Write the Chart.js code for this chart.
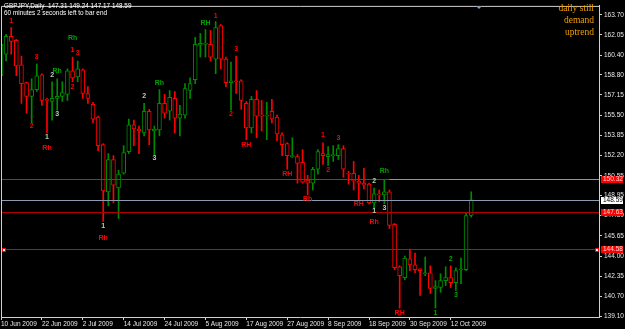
<!DOCTYPE html>
<html>
<head>
<meta charset="utf-8">
<script src="https://cdn.jsdelivr.net/npm/chart.js@4.4.1/dist/chart.umd.min.js"></script>
<style>
html, body { margin: 0; padding: 0; background: #000; }
#wrap { width: 625px; height: 329px; }
</style>
</head>
<body>
<div id="wrap"><canvas id="candle-chart" width="625" height="329"></canvas></div>
<script>
// GBPJPY daily, 10 Jun 2009 .. 16 Oct 2009
var openPrice = [
    158.72, 160.48, 161.93, 161.61, 159.60, 158.15, 157.03, 157.59, 158.80, 156.79,
    156.62, 156.87, 157.03, 157.19, 159.12, 158.63, 159.20, 157.27, 156.38, 155.34,
    153.09, 149.23, 151.88, 149.55, 150.76, 152.52, 154.70, 154.37, 154.05, 155.82,
    154.21, 154.29, 156.46, 155.82, 156.87, 155.26, 155.50, 157.51, 158.39, 161.21,
    161.29, 161.29, 160.08, 162.82, 160.08, 158.15, 158.31, 158.31, 156.46, 154.45,
    156.79, 155.50, 155.42, 155.82, 155.34, 153.89, 153.17, 152.12, 152.12, 151.64,
    150.19, 149.95, 151.08, 152.36, 152.12, 152.20, 152.20, 152.77, 150.76, 150.76,
    150.11, 149.95, 149.87, 148.34, 149.07, 148.99, 149.23, 146.58, 143.12, 142.23,
    143.76, 143.28, 142.96, 142.55, 142.63, 141.35, 141.43, 141.99, 142.23, 141.83,
    142.88, 142.88, 147.31
];
var highPrice = [
    161.45, 162.09, 162.65, 161.69, 160.32, 158.20, 158.47, 159.68, 158.88, 156.87,
    158.23, 158.47, 158.23, 159.28, 160.24, 159.92, 159.28, 157.83, 156.54, 155.42,
    153.17, 152.36, 152.20, 151.00, 153.01, 155.18, 155.10, 154.61, 156.46, 155.98,
    154.61, 157.59, 157.19, 157.51, 157.43, 156.30, 158.07, 158.55, 161.85, 162.17,
    162.49, 162.41, 163.14, 162.90, 160.24, 159.84, 160.32, 158.39, 156.62, 157.03,
    157.51, 156.70, 156.54, 156.79, 155.50, 154.05, 153.25, 153.65, 152.28, 152.69,
    150.59, 151.24, 152.69, 153.25, 152.93, 153.01, 153.09, 153.01, 150.92, 151.72,
    150.59, 151.16, 149.95, 149.55, 149.39, 150.27, 149.39, 146.66, 143.20, 144.00,
    144.57, 144.24, 142.96, 143.92, 143.20, 141.99, 142.55, 143.12, 143.20, 143.04,
    143.84, 147.54, 149.24
];
var lowPrice = [
    158.55, 159.92, 160.48, 158.72, 156.46, 155.66, 154.86, 157.43, 156.30, 154.05,
    155.10, 155.90, 156.62, 156.70, 158.23, 158.23, 156.87, 156.46, 154.86, 152.60,
    146.82, 148.10, 148.34, 147.06, 150.68, 152.36, 153.01, 152.36, 153.81, 153.09,
    152.28, 153.81, 155.26, 155.10, 154.05, 153.81, 155.26, 156.87, 158.07, 160.24,
    160.24, 159.92, 158.88, 159.28, 157.83, 155.90, 157.27, 155.98, 153.49, 154.05,
    153.65, 154.21, 153.49, 154.86, 153.41, 152.20, 151.08, 152.04, 149.95, 149.95,
    148.99, 149.39, 150.68, 151.48, 151.40, 151.72, 151.88, 150.43, 149.87, 149.39,
    148.59, 149.47, 148.26, 147.86, 148.42, 148.26, 146.25, 142.88, 139.74, 142.07,
    142.80, 142.63, 140.79, 142.39, 140.95, 139.74, 141.03, 141.59, 141.43, 141.19,
    141.75, 142.80, 147.17
];
var closePrice = [
    161.29, 161.93, 161.53, 159.52, 158.07, 157.03, 157.59, 158.72, 156.70, 156.70,
    156.87, 157.03, 157.35, 159.12, 158.55, 159.28, 157.27, 156.87, 155.18, 153.01,
    149.31, 151.88, 149.79, 150.68, 152.44, 154.70, 154.37, 154.21, 155.82, 154.29,
    154.37, 156.46, 155.66, 156.95, 155.26, 155.58, 157.67, 158.07, 161.29, 161.37,
    161.37, 160.24, 162.65, 160.08, 158.15, 158.31, 158.23, 156.70, 154.45, 156.79,
    155.42, 155.42, 155.50, 155.18, 153.97, 153.09, 152.20, 152.20, 151.56, 150.03,
    149.95, 151.08, 152.52, 152.20, 152.28, 152.28, 152.77, 151.08, 150.68, 150.11,
    149.95, 149.79, 148.34, 149.07, 148.99, 149.23, 146.50, 143.04, 142.39, 143.84,
    143.28, 142.88, 142.80, 142.63, 141.35, 141.51, 141.99, 142.23, 141.83, 142.80,
    142.96, 147.30, 148.59
];

// one tick label every 8 bars
var dateLabels = ['10 Jun 2009', '22 Jun 2009', '2 Jul 2009', '14 Jul 2009', '24 Jul 2009', '5 Aug 2009',
    '17 Aug 2009', '27 Aug 2009', '8 Sep 2009', '18 Sep 2009', '30 Sep 2009', '12 Oct 2009'];
var priceTicks = [163.70, 162.05, 160.40, 158.80, 157.15, 155.50, 153.85, 152.20, 150.55,
    148.95, 147.30, 145.65, 144.00, 142.35, 140.70, 139.10];

// horizontal lines: price, colour, label box background, label text colour
var levels = [150.32, 148.59, 147.63, 144.58];
var levelColors = ['#ff0000', '#8c9bb0', '#b00000', '#e00000'];
var levelBoxBg = ['#ff0000', '#ffffff', '#ff0000', '#ff0000'];
var levelBoxFg = ['#ffd0d0', '#000000', '#ffd0d0', '#ffd0d0'];
var purpleStart = 76;

// indicator marks: bar index, price, text, colour
var marks = [
    [2, 163.16, '1', 'r'], [7, 160.24, '3', 'r'], [14, 161.77, 'Rh', 'g'], [14, 160.83, '1', 'r'],
    [15, 160.57, '3', 'r'], [14, 157.83, '2', 'r'], [10, 158.80, '2', 'p'], [11, 159.12, 'Rh', 'g'],
    [11, 155.58, '3', 'p'], [6, 154.62, '2', 'r'], [9, 153.73, '1', 'p'], [9, 152.79, 'Rh', 'r'],
    [31, 158.15, 'Rh', 'g'], [28, 157.03, '2', 'p'], [30, 151.99, '3', 'p'], [20, 146.42, '1', 'p'],
    [20, 145.45, 'Rh', 'r'], [40, 162.98, 'RH', 'g'], [42, 163.62, '1', 'r'], [46, 160.89, '3', 'r'],
    [45, 155.60, '2', 'r'], [48, 153.06, 'RH', 'r'], [63, 153.84, '1', 'r'], [66, 153.65, '3', 'r'],
    [56, 150.65, 'RH', 'r'], [64, 150.98, '2', 'r'], [60, 148.64, 'Rh', 'r'], [75, 150.92, 'Rh', 'g'],
    [73, 150.11, '2', 'p'], [70, 148.24, 'RH', 'r'], [73, 147.68, '1', 'p'], [75, 147.89, '3', 'p'],
    [73, 146.76, 'Rh', 'r'], [78, 139.37, 'RH', 'r'], [88, 143.74, '2', 'g'], [89, 140.85, '3', 'g'],
    [85, 139.32, '1', 'g']
];
var markColors = { r: '#ff0000', g: '#00a000', p: '#b4d0b4' };

var slots = 118;
var labels = [];
for (var i = 0; i < slots; i++) labels.push(String(i));

var candleColors = openPrice.map(function (o, i) {
    return closePrice[i] >= o ? '#008a00' : '#ff0000';
});

var smallFont = '"Liberation Sans Narrow", "Liberation Sans", sans-serif';

var overlay = {
    id: 'mtOverlay',
    afterDatasetsDraw: function (chart) {
        var ctx = chart.ctx;
        var area = chart.chartArea;
        var x = chart.scales.x, y = chart.scales.y;
        ctx.save();
        ctx.beginPath();
        ctx.rect(area.left, area.top, area.right - area.left, area.bottom - area.top);
        ctx.clip();
        ctx.lineWidth = 1;
        levels.forEach(function (lv, k) {
            var py = Math.round(y.getPixelForValue(lv)) + 0.5;
            ctx.strokeStyle = levelColors[k];
            ctx.beginPath();
            ctx.moveTo(area.left, py);
            ctx.lineTo(area.right, py);
            ctx.stroke();
        });
        var pp = Math.round(y.getPixelForValue(levels[0])) + 0.5;
        ctx.strokeStyle = '#a080f0';
        ctx.beginPath();
        ctx.moveTo(x.getPixelForValue(purpleStart), pp);
        ctx.lineTo(area.right, pp);
        ctx.stroke();

        // handles on the lower red line
        var hy = Math.round(y.getPixelForValue(levels[3]));
        [area.left + 1, area.right - 4].forEach(function (hx) {
            ctx.fillStyle = '#ff0000';
            ctx.fillRect(hx, hy - 1, 4, 4);
            ctx.fillStyle = '#ffffff';
            ctx.fillRect(hx + 1, hy, 2, 2);
        });

        ctx.font = 'bold 7px "Liberation Sans", sans-serif';
        ctx.textAlign = 'center';
        ctx.textBaseline = 'middle';
        marks.forEach(function (m) {
            ctx.fillStyle = markColors[m[3]];
            ctx.fillText(m[2], x.getPixelForValue(m[0]), y.getPixelForValue(m[1]));
        });
        ctx.restore();
    },
    afterDraw: function (chart) {
        var ctx = chart.ctx;
        var area = chart.chartArea;
        var y = chart.scales.y;
        ctx.save();
        ctx.strokeStyle = '#d0d0d0';
        ctx.lineWidth = 1;
        ctx.beginPath();
        ctx.moveTo(area.left + 0.5, area.bottom);
        ctx.lineTo(area.left + 0.5, area.top + 0.5);
        ctx.lineTo(area.right, area.top + 0.5);
        ctx.stroke();

        // chart shift marker
        ctx.fillStyle = '#8c9bb0';
        ctx.beginPath();
        ctx.moveTo(476, area.top);
        ctx.lineTo(482, area.top);
        ctx.lineTo(479, area.top + 3);
        ctx.fill();

        ctx.font = '6.5px ' + smallFont;
        ctx.textBaseline = 'middle';
        ctx.textAlign = 'left';
        levels.forEach(function (lv, k) {
            var py = y.getPixelForValue(lv);
            ctx.fillStyle = levelBoxBg[k];
            ctx.fillRect(area.right + 2, Math.round(py) - 3, 22, 7);
            ctx.fillStyle = levelBoxFg[k];
            ctx.fillText(lv.toFixed(2), area.right + 4, Math.round(py) + 0.5);
        });

        ctx.fillStyle = '#ffffff';
        ctx.font = '6.4px "Liberation Sans", sans-serif';
        ctx.fillText('GBPJPY,Daily  147.31 149.24 147.17 148.59', 4, 6.5);
        ctx.fillText('60 minutes 2 seconds left to bar end', 4, 13.5);

        ctx.fillStyle = '#f0a000';
        ctx.font = '9.5px "Liberation Serif", serif';
        ctx.textAlign = 'right';
        ctx.fillText('daily still', 594, 8.5);
        ctx.fillText('demand', 594, 20.5);
        ctx.fillText('uptrend', 594, 32.5);
        ctx.restore();
    }
};

var ctx = document.getElementById('candle-chart');

var data = {
    labels: labels,
    datasets: [
        {
            label: 'Body',
            data: openPrice.map(function (o, i) { return [o, closePrice[i]]; }),
            backgroundColor: '#000000',
            borderColor: candleColors,
            borderWidth: 1,
            borderSkipped: false,
            barThickness: 4,
            grouped: false,
            order: 0
        },
        {
            label: 'Wick',
            data: lowPrice.map(function (l, i) { return [l, highPrice[i]]; }),
            backgroundColor: candleColors,
            borderWidth: 0,
            barThickness: 1,
            grouped: false,
            order: 1
        }
    ]
};

var options = {
    responsive: false,
    animation: false,
    layout: { padding: { top: 1, left: 1, right: 0, bottom: 0 } },
    plugins: {
        legend: { display: false },
        tooltip: { enabled: false }
    },
    scales: {
        x: {
            offset: false,
            grid: { display: true, offset: false, drawOnChartArea: false, tickLength: 3, color: '#d0d0d0' },
            border: { display: true, color: '#d0d0d0' },
            ticks: {
                autoSkip: false,
                maxRotation: 0,
                minRotation: 0,
                align: 'start',
                padding: 0,
                color: '#e8e8e8',
                font: { family: smallFont, size: 6.5 },
                callback: function (value) {
                    return value % 8 === 0 ? dateLabels[value / 8] : '';
                }
            },
            afterBuildTicks: function (scale) {
                scale.ticks = scale.ticks.filter(function (t) {
                    return t.value % 8 === 0 && t.value / 8 < dateLabels.length;
                });
            },
            afterFit: function (scale) { scale.height = 12; }
        },
        y: {
            position: 'right',
            min: 139.02,
            max: 164.42,
            grid: { drawOnChartArea: false, tickLength: 3, color: '#d0d0d0' },
            border: { display: true, color: '#d0d0d0' },
            ticks: {
                padding: 2,
                color: '#e8e8e8',
                font: { family: smallFont, size: 6.5 },
                callback: function (value) { return Number(value).toFixed(2); }
            },
            afterBuildTicks: function (scale) {
                scale.ticks = priceTicks.map(function (v) { return { value: v }; });
            },
            afterFit: function (scale) { scale.width = 26; }
        }
    }
};

new Chart(ctx, {
    type: 'bar',
    data: data,
    options: options,
    plugins: [overlay]
});
</script>
</body>
</html>
